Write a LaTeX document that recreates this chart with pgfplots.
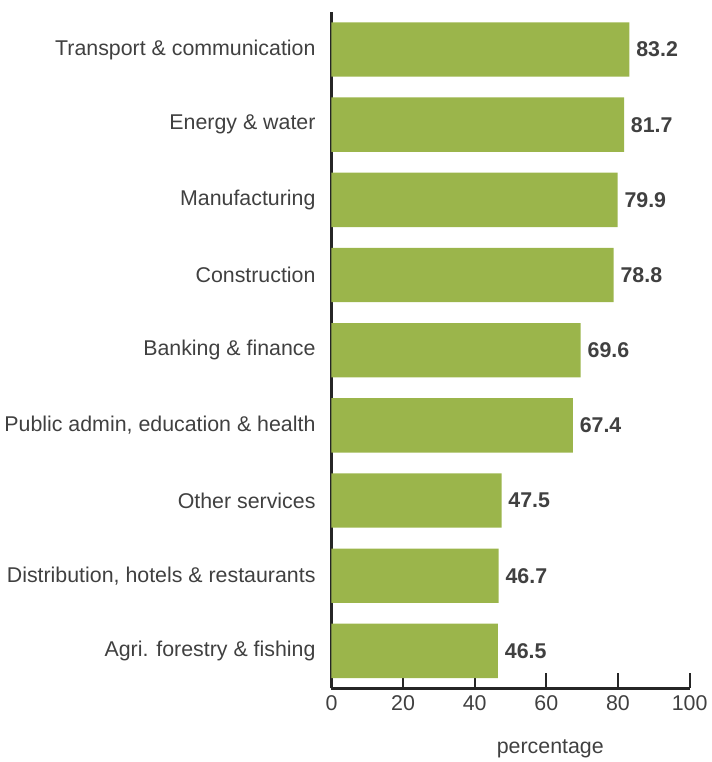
\documentclass[border=0pt]{standalone}
\usepackage{pgfplots}
\pgfplotsset{compat=1.18}
\usepackage{fontspec}
\setmainfont{Liberation Sans}
\definecolor{bargreen}{HTML}{9BB54B}
\definecolor{txtgray}{HTML}{404040}
\begin{document}
\begin{tikzpicture}
  \begin{axis}[
    name=main,
    scale only axis,
    width=270pt, height=510pt,
    xbar, bar width=41pt,
    xmin=0, xmax=100, ymin=-0.5, ymax=8.5,
    axis lines*=left,
    axis line style={line width=1.6pt, color=black!85},
    xtick={0,20,...,100}, tick align=inside,
    major tick length=12pt,
    tick style={line width=1.6pt, color=black!85},
    ytick={0,...,8}, ytick style={draw=none},
    yticklabels={Agri. forestry \& fishing, {Distribution, hotels \& restaurants}, Other services, {Public admin, education \& health}, Banking \& finance, Construction, Manufacturing, Energy \& water, Transport \& communication},
    ticklabel style={font=\fontsize{16.1}{19}\selectfont, text=txtgray},
    yticklabel style={xshift=-8.5pt},
    xticklabel style={yshift=-2pt},
    /pgf/number format/assume math mode=true,
    xlabel={percentage},
    xlabel style={font=\fontsize{16.1}{19}\selectfont, text=txtgray},
    x label style={at={(axis description cs:0.611,-0.0956)}, anchor=base},
    nodes near coords,
    nodes near coords style={font=\bfseries\fontsize{16.1}{19}\selectfont, text=txtgray, anchor=west, inner sep=0pt, xshift=5pt,
      /pgf/number format/fixed, /pgf/number format/fixed zerofill, /pgf/number format/precision=1},
    clip=false,
    ]
    \addplot[fill=bargreen, draw=none] coordinates {
      (46.5,0) (46.7,1) (47.5,2) (67.4,3) (69.6,4) (78.8,5) (79.9,6) (81.7,7) (83.2,8)};
  \end{axis}
  \path ([yshift=9pt]main.north west) -- ([yshift=9pt]main.north east);
\end{tikzpicture}
\end{document}
